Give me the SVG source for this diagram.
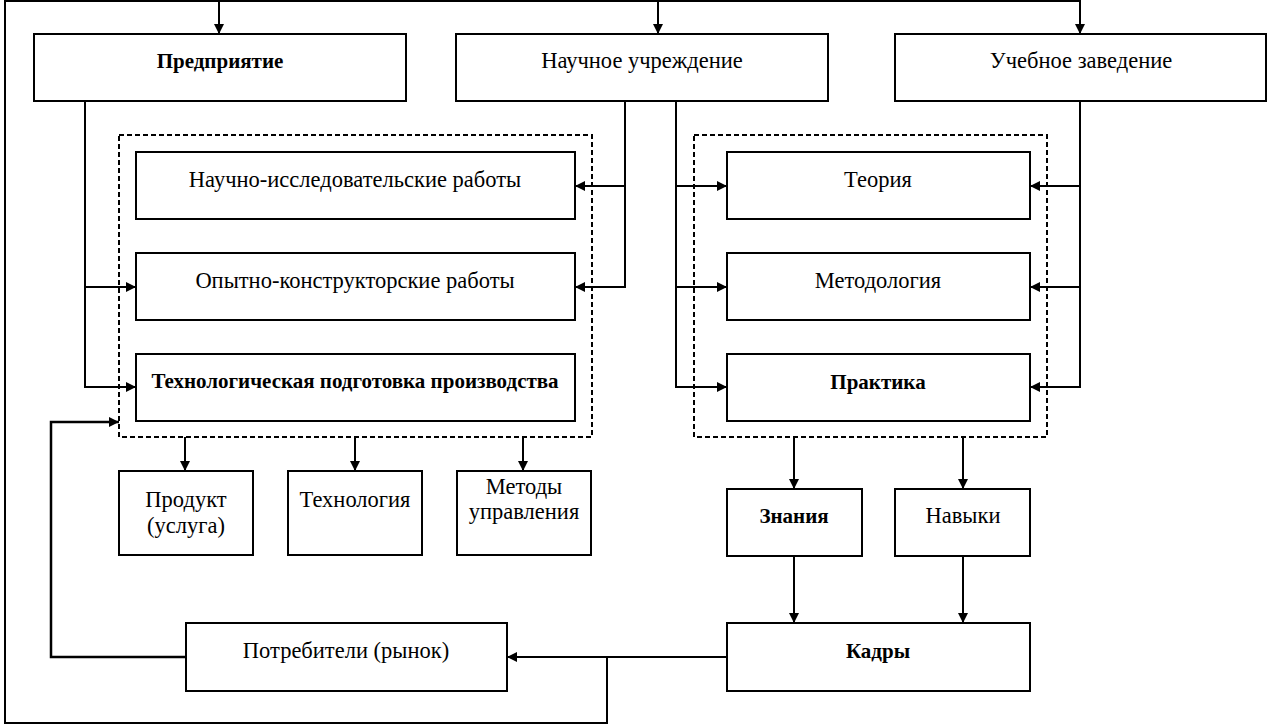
<svg xmlns="http://www.w3.org/2000/svg" width="1267" height="725" viewBox="0 0 1267 725" font-family="'Liberation Serif', 'Times New Roman', serif">
<style>
.box{fill:#fff;stroke:#000;stroke-width:2}
.grp{fill:none;stroke:#000;stroke-width:2;stroke-dasharray:5,3}
.ln{fill:none;stroke:#000;stroke-width:2}
.ar{fill:none;stroke:#000;stroke-width:2;marker-end:url(#ah)}
text{font-family:'Liberation Serif','Times New Roman',serif;font-size:22.5px;fill:#000;text-anchor:middle}
.b{font-weight:bold;font-size:21px}
</style>
<defs>
<marker id="ah" markerUnits="userSpaceOnUse" markerWidth="11" markerHeight="10" refX="10" refY="5" orient="auto">
<path d="M0,0 L10,5 L0,10 z" fill="#000"/>
</marker>
</defs>
<rect width="1267" height="725" fill="#fff"/>
<g id="groups">
<rect class="grp" x="119" y="135" width="473" height="302"/>
<rect class="grp" x="694" y="135" width="353" height="302"/>
</g>
<g id="connectors">
<path class="ln" d="M607,657 V723 H5 V1 H1081"/>
<path class="ar" d="M219,1 V34"/>
<path class="ar" d="M658,1 V34"/>
<path class="ar" d="M1080,1 V34"/>
<path class="ar" d="M727,657 H507"/>
<path class="ar" d="M186,657 H51 V422 H119" style="stroke-width:2.5"/>
<path class="ar" d="M85,101 V387 H136"/>
<path class="ar" d="M85,287 H136"/>
<path class="ar" d="M625,101 V287 H575"/>
<path class="ar" d="M625,186 H575"/>
<path class="ar" d="M676,101 V387 H727"/>
<path class="ar" d="M676,186 H727"/>
<path class="ar" d="M676,287 H727"/>
<path class="ar" d="M1080,101 V387 H1030"/>
<path class="ar" d="M1080,186 H1030"/>
<path class="ar" d="M1080,287 H1030"/>
<path class="ar" d="M185,437 V471"/>
<path class="ar" d="M355,437 V471"/>
<path class="ar" d="M523,437 V471"/>
<path class="ar" d="M794,437 V489"/>
<path class="ar" d="M963,437 V489"/>
<path class="ar" d="M794,556 V623"/>
<path class="ar" d="M963,556 V623"/>
</g>
<g id="predpriyatie"><rect class="box" x="34" y="34" width="372" height="67"/><text class="b" x="220" y="68">Предприятие</text></g>
<g id="nauchnoe"><rect class="box" x="456" y="34" width="372" height="67"/><text x="642" y="68">Научное учреждение</text></g>
<g id="uchebnoe"><rect class="box" x="895" y="34" width="371" height="67"/><text x="1081" y="68">Учебное заведение</text></g>
<g id="nir"><rect class="box" x="136" y="152" width="439" height="67"/><text x="355" y="187">Научно-исследовательские работы</text></g>
<g id="okr"><rect class="box" x="136" y="253" width="439" height="67"/><text x="355" y="288">Опытно-конструкторские работы</text></g>
<g id="tpp"><rect class="box" x="136" y="354" width="439" height="67"/><text class="b" x="355" y="388">Технологическая подготовка производства</text></g>
<g id="teoriya"><rect class="box" x="727" y="152" width="303" height="67"/><text x="878" y="187">Теория</text></g>
<g id="metodologiya"><rect class="box" x="727" y="253" width="303" height="67"/><text x="878" y="288">Методология</text></g>
<g id="praktika"><rect class="box" x="727" y="354" width="303" height="67"/><text class="b" x="878" y="389">Практика</text></g>
<g id="produkt"><rect class="box" x="119" y="471" width="134" height="84"/><text x="186" y="507">Продукт</text><text x="186" y="533">(услуга)</text></g>
<g id="tehnologiya"><rect class="box" x="288" y="471" width="134" height="84"/><text x="355" y="507">Технология</text></g>
<g id="metody"><rect class="box" x="457" y="471" width="134" height="84"/><text x="524" y="494">Методы</text><text x="524" y="519">управления</text></g>
<g id="znaniya"><rect class="box" x="727" y="489" width="135" height="67"/><text class="b" x="794" y="523">Знания</text></g>
<g id="navyki"><rect class="box" x="895" y="489" width="135" height="67"/><text x="963" y="523">Навыки</text></g>
<g id="kadry"><rect class="box" x="727" y="623" width="303" height="68"/><text class="b" x="878" y="658">Кадры</text></g>
<g id="potrebiteli"><rect class="box" x="186" y="623" width="321" height="68"/><text x="346" y="658">Потребители (рынок)</text></g>
</svg>
